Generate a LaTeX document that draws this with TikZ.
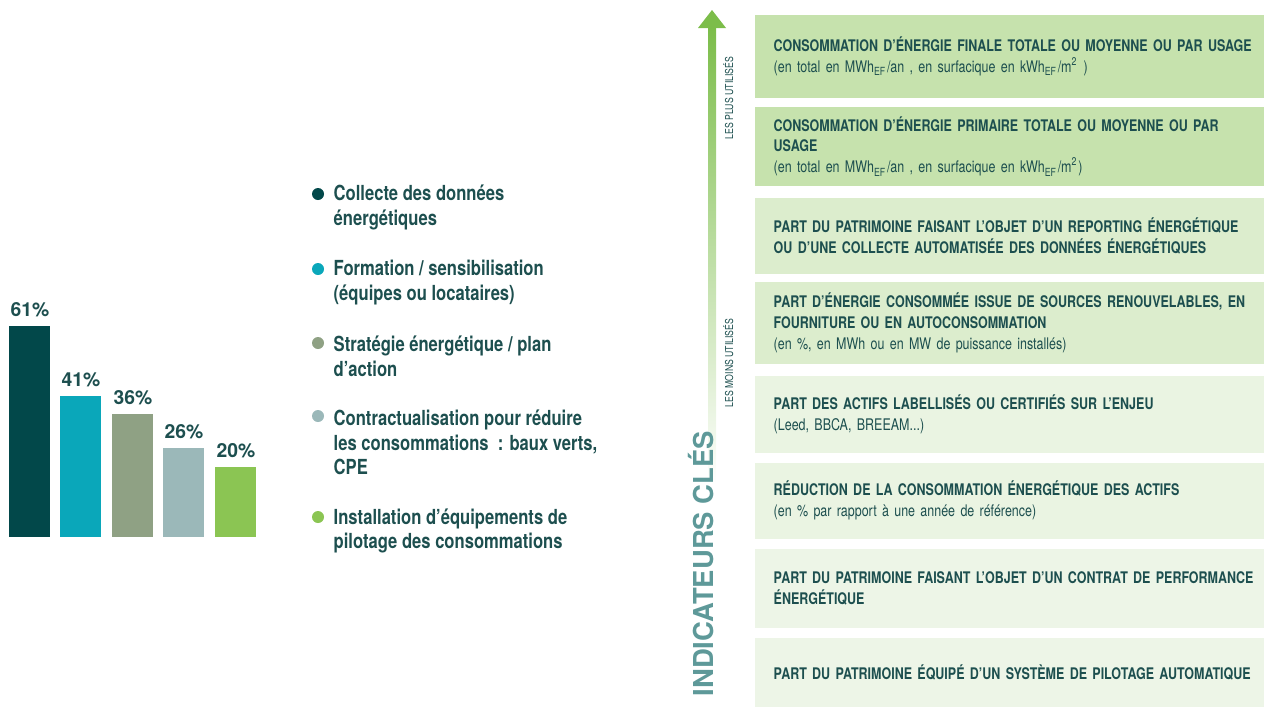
\documentclass[tikz,border=0pt]{standalone}
\usepackage{fontspec}
\setmainfont{TeX Gyre Heros}[FakeStretch=0.8]
\newfontfamily\largefont{TeX Gyre Heros}
\newfontfamily\boxfont{TeX Gyre Heros}[FakeStretch=0.78]
\hyphenpenalty=10000
\definecolor{sombre}{HTML}{1D4F4F}
\definecolor{barre1}{HTML}{02484A}
\definecolor{barre2}{HTML}{0AA7BA}
\definecolor{barre3}{HTML}{8FA184}
\definecolor{barre4}{HTML}{9BB8B9}
\definecolor{barre5}{HTML}{8BC553}
\definecolor{vert1}{HTML}{C6E2AD}
\definecolor{vert2}{HTML}{DCEDCD}
\definecolor{vert3}{HTML}{EAF4E2}
\definecolor{vert4}{HTML}{EDF5E7}
\definecolor{fleche}{HTML}{7CBD4A}
\definecolor{titre}{HTML}{5E9999}
\begin{document}
\begin{tikzpicture}[x=0.01cm,y=-0.01cm,
  pct/.style={font=\largefont\bfseries\fontsize{5.5}{6.5}\selectfont,text=sombre,inner sep=0pt,anchor=base},
  puce/.style={circle,inner sep=0pt,minimum size=0.12cm},
  legende/.style={font=\bfseries\fontsize{5.9}{7.03}\selectfont,text=sombre,align=left,anchor=west,inner sep=0pt},
  indbox/.style={anchor=north west,text width=5.2cm,inner xsep=0.19cm,inner ysep=0pt,align=left,font=\boxfont\fontsize{4.55}{5.9}\selectfont,text=sombre},
  vertical/.style={rotate=90,anchor=base west,inner sep=0pt}]
\useasboundingbox (0,0) rectangle (1264,706);
\fill[barre1] (9,537) rectangle (50,326);
\fill[barre2] (60,537) rectangle (101,396);
\fill[barre3] (112,537) rectangle (153,414);
\fill[barre4] (163,537) rectangle (204,448);
\fill[barre5] (215,537) rectangle (256,467);
\node[pct] (p61) at (30,316) {61\%};
\node[pct] (p41) at (81,386) {41\%};
\node[pct] (p36) at (133,404) {36\%};
\node[pct] (p26) at (184,438) {26\%};
\node[pct] (p20) at (236,457) {20\%};
\node[puce,fill=barre1] (b1) at (318,194) {};
\node[puce,fill=barre2] (b2) at (318,269) {};
\node[puce,fill=barre3] (b3) at (318,343) {};
\node[puce,fill=barre4] (b4) at (318,416) {};
\node[puce,fill=barre5] (b5) at (318,517) {};
\node[legende] (l1) at (333,207.5) {Collecte des données\\énergétiques};
\node[legende] (l2) at (333,282.5) {Formation / sensibilisation\\(équipes ou locataires)};
\node[legende] (l3) at (333,356.5) {Stratégie énergétique / plan\\d’action};
\node[legende] (l4) at (333,442.5) {Contractualisation pour réduire\\les consommations~~: baux verts,\\CPE};
\node[legende] (l5) at (333,531) {Installation d’équipements de\\pilotage des consommations};
\coordinate (haut) at (712,10);
\coordinate (bas) at (712,485);
\shade[top color=fleche,bottom color=white] (708,27) rectangle (716,485);
\fill[fleche] (698,28) -- (haut) -- (726,28) -- cycle;
\node[vertical,font=\largefont\bfseries\fontsize{7.8}{8}\selectfont,text=titre] (titre) at (713,697) {INDICATEURS CLÉS};
\node[vertical,font=\fontsize{3.1}{3.5}\selectfont,text=sombre] (plus) at (733,140) {LES PLUS UTILISÉS};
\node[vertical,font=\fontsize{3.1}{3.5}\selectfont,text=sombre] (moins) at (733,408) {LES MOINS UTILISÉS};
\node[indbox,fill=vert1,minimum height=0.83cm] (k1) at (754,14) {\textbf{CONSOMMATION D’ÉNERGIE FINALE TOTALE OU MOYENNE OU PAR USAGE}\\(en total en MWh\textsubscript{EF}/an , en surfacique en kWh\textsubscript{EF}/m\textsuperscript{2} )};
\node[indbox,fill=vert1,minimum height=0.79cm] (k2) at (754,106) {\textbf{CONSOMMATION D’ÉNERGIE PRIMAIRE TOTALE OU MOYENNE OU PAR}\\\textbf{USAGE}\\(en total en MWh\textsubscript{EF}/an , en surfacique en kWh\textsubscript{EF}/m\textsuperscript{2})};
\node[indbox,fill=vert2,minimum height=0.76cm] (k3) at (754,197) {\textbf{PART DU PATRIMOINE FAISANT L’OBJET D’UN REPORTING ÉNERGÉTIQUE}\\\textbf{OU D’UNE COLLECTE AUTOMATISÉE DES DONNÉES ÉNERGÉTIQUES}};
\node[indbox,fill=vert2,minimum height=0.82cm] (k4) at (754,281) {\textbf{PART D’ÉNERGIE CONSOMMÉE ISSUE DE SOURCES RENOUVELABLES, EN}\\\textbf{FOURNITURE OU EN AUTOCONSOMMATION}\\(en \%, en MWh ou en MW de puissance installés)};
\node[indbox,fill=vert3,minimum height=0.77cm] (k5) at (754,375) {\textbf{PART DES ACTIFS LABELLISÉS OU CERTIFIÉS SUR L’ENJEU}\\(Leed, BBCA, BREEAM...)};
\node[indbox,fill=vert3,minimum height=0.76cm] (k6) at (754,462) {\textbf{RÉDUCTION DE LA CONSOMMATION ÉNERGÉTIQUE DES ACTIFS}\\(en \% par rapport à une année de référence)};
\node[indbox,fill=vert4,minimum height=0.79cm] (k7) at (754,548) {\textbf{PART DU PATRIMOINE FAISANT L’OBJET D’UN CONTRAT DE PERFORMANCE}\\\textbf{ÉNERGÉTIQUE}};
\node[indbox,fill=vert4,minimum height=0.69cm] (k8) at (754,637) {\textbf{PART DU PATRIMOINE ÉQUIPÉ D’UN SYSTÈME DE PILOTAGE AUTOMATIQUE}};
\end{tikzpicture}
\end{document}
